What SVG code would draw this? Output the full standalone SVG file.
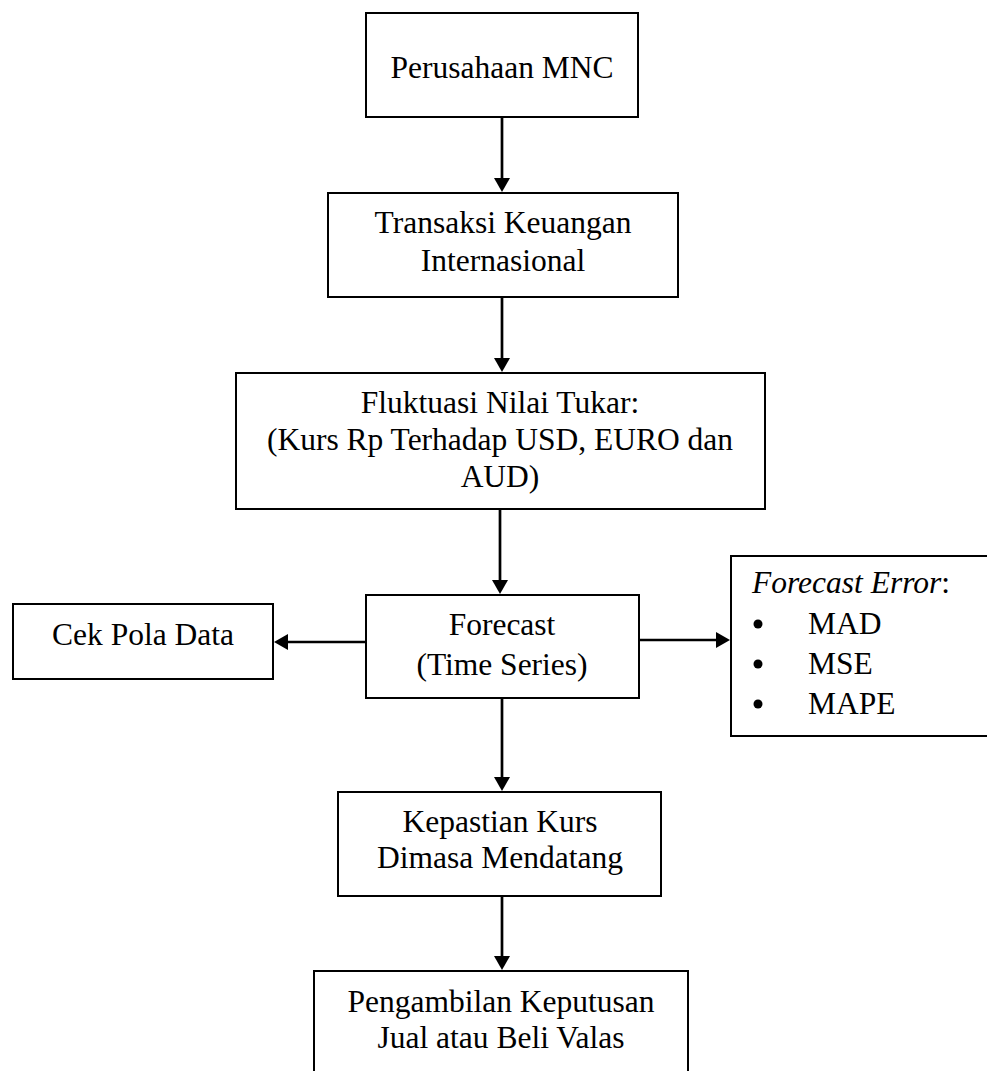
<svg xmlns="http://www.w3.org/2000/svg" width="987" height="1071" viewBox="0 0 987 1071">
<style>
.box{fill:#fff;stroke:#000;stroke-width:2}
.t{font-family:"Liberation Serif","Times New Roman",serif;font-size:31.5px;fill:#000;text-anchor:middle}
.l{font-family:"Liberation Serif","Times New Roman",serif;font-size:31.5px;fill:#000}
.c{stroke:#000;stroke-width:2.7;fill:none;marker-end:url(#ah)}
</style>
<defs>
<marker id="ah" markerUnits="userSpaceOnUse" viewBox="0 0 14 16" refX="8" refY="8" markerWidth="14" markerHeight="16" orient="auto">
<path d="M0,0 L14,8 L0,16 z" fill="#000"/>
</marker>
</defs>
<rect width="987" height="1071" fill="#fff"/>
<g id="connectors">
<line class="c" x1="502" y1="117" x2="502" y2="186"/>
<line class="c" x1="502" y1="297" x2="502" y2="366"/>
<line class="c" x1="500" y1="509" x2="500" y2="588"/>
<line class="c" x1="502" y1="698" x2="502" y2="785"/>
<line class="c" x1="502" y1="896" x2="502" y2="964"/>
<line class="c" x1="366" y1="642" x2="280" y2="642"/>
<line class="c" x1="639" y1="640" x2="724" y2="640"/>
</g>
<g id="n1">
<rect class="box" x="366" y="13" width="272" height="104"/>
<text class="t" x="502" y="78">Perusahaan MNC</text>
</g>
<g id="n2">
<rect class="box" x="328" y="193" width="350" height="104"/>
<text class="t" x="503" y="233">Transaksi Keuangan</text>
<text class="t" x="503" y="271">Internasional</text>
</g>
<g id="n3">
<rect class="box" x="236" y="373" width="529" height="136"/>
<text class="t" x="500" y="413">Fluktuasi Nilai Tukar:</text>
<text class="t" x="500" y="450">(Kurs Rp Terhadap USD, EURO dan</text>
<text class="t" x="500" y="487">AUD)</text>
</g>
<g id="n4">
<rect class="box" x="366" y="595" width="273" height="103"/>
<text class="t" x="502" y="635">Forecast</text>
<text class="t" x="502" y="675">(Time Series)</text>
</g>
<g id="n5">
<rect class="box" x="13" y="604" width="260" height="75"/>
<text class="t" x="143" y="645">Cek Pola Data</text>
</g>
<g id="n6">
<rect class="box" x="731" y="556" width="264" height="180"/>
<text class="l" x="752" y="593"><tspan font-style="italic">Forecast Error</tspan>:</text>
<circle cx="758" cy="624" r="4.5" fill="#000"/>
<circle cx="758" cy="664" r="4.5" fill="#000"/>
<circle cx="758" cy="704" r="4.5" fill="#000"/>
<text class="l" x="808" y="634">MAD</text>
<text class="l" x="808" y="674">MSE</text>
<text class="l" x="808" y="714">MAPE</text>
</g>
<g id="n7">
<rect class="box" x="338" y="792" width="323" height="104"/>
<text class="t" x="500" y="832">Kepastian Kurs</text>
<text class="t" x="500" y="868">Dimasa Mendatang</text>
</g>
<g id="n8">
<rect class="box" x="314" y="971" width="374" height="120"/>
<text class="t" x="501" y="1012">Pengambilan Keputusan</text>
<text class="t" x="501" y="1048">Jual atau Beli Valas</text>
</g>
</svg>
